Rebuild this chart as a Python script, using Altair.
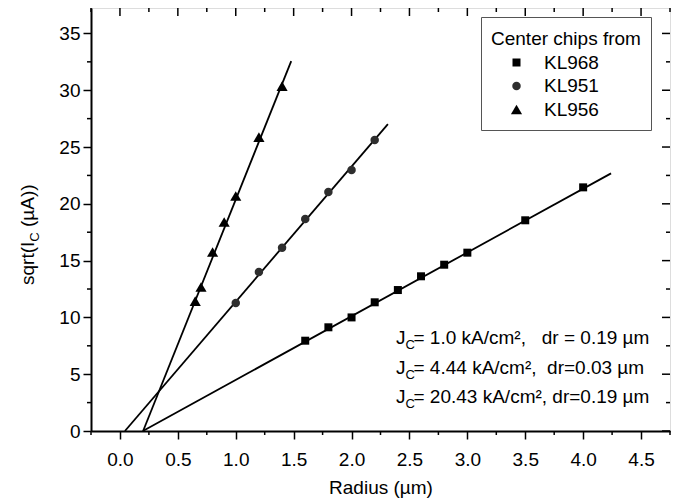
import altair as alt
import pandas as pd

FONT = "Liberation Sans"
FS = 19

# ---------------- data ----------------
chips = ["KL968", "KL951", "KL956"]
shapes = ["square", "circle", "triangle-up"]
colors = ["#000000", "#2e2e2e", "#000000"]
sizes = [64, 72, 125]

kl968_r = [1.6, 1.8, 2.0, 2.2, 2.4, 2.6, 2.8, 3.0, 3.5, 4.0]
kl968_v = [7.95, 9.13, 10.0, 11.33, 12.41, 13.62, 14.64, 15.7, 18.55, 21.45]
kl951_r = [1.0, 1.2, 1.4, 1.6, 1.8, 2.0, 2.2]
kl951_v = [11.27, 14.0, 16.14, 18.66, 21.04, 22.98, 25.62]
kl956_r = [0.65, 0.7, 0.8, 0.9, 1.0, 1.2, 1.4]
kl956_v = [11.44, 12.68, 15.76, 18.4, 20.69, 25.88, 30.37]

# linear fits (start / end of each drawn line)
fit_r0 = [0.198, 0.043, 0.200]
fit_r1 = [4.241, 2.314, 1.479]
fit_v0 = [0.0, 0.0, 0.0]
fit_v1 = [22.68, 27.02, 32.57]

x_major = [0.0, 0.5, 1.0, 1.5, 2.0, 2.5, 3.0, 3.5, 4.0, 4.5]
x_minor = [-0.25, 0.25, 0.75, 1.25, 1.75, 2.25, 2.75, 3.25, 3.75, 4.25, 4.75]
y_major = [0, 5, 10, 15, 20, 25, 30, 35]
y_minor = [2.5, 7.5, 12.5, 17.5, 22.5, 27.5, 32.5]

jc_values = ["1.0", "4.44", "20.43"]
dr_values = ["\u00a0\u00a0\u00a0dr = 0.19 µm", "\u00a0\u00a0dr=0.03 µm", "\u00a0dr=0.19 µm"]

# ---------------- geometry ----------------
W, H = 579, 423
X_DOM = [-0.25, 4.75]
Y_DOM = [0, 37.24]

pts = pd.DataFrame({
    "r": kl968_r + kl951_r + kl956_r,
    "v": kl968_v + kl951_v + kl956_v,
    "chip": [chips[0]] * len(kl968_r) + [chips[1]] * len(kl951_r) + [chips[2]] * len(kl956_r),
})
fits = pd.DataFrame({
    "r": fit_r0 + fit_r1,
    "v": fit_v0 + fit_v1,
    "chip": chips + chips,
})

xscale = alt.Scale(domain=X_DOM, nice=False, zero=False)
yscale = alt.Scale(domain=Y_DOM, nice=False, zero=False)
xaxis = alt.Axis(values=x_major, format=".1f", grid=False, tickSize=8, tickWidth=1.5,
                 tickColor="black", domainColor="black", domainWidth=2,
                 labelFontSize=FS, labelColor="black", labelPadding=11, labelFont=FONT,
                 title="Radius (µm)", titleFontSize=FS, titleFontWeight="normal",
                 titleColor="black", titlePadding=9, titleFont=FONT)
yaxis = alt.Axis(values=y_major, format="d", grid=False, tickSize=8, tickWidth=1.5,
                 tickColor="black", domainColor="black", domainWidth=2,
                 labelFontSize=FS, labelColor="black", labelPadding=3, labelFont=FONT,
                 title=None)

X = alt.X("r:Q", scale=xscale, axis=xaxis)
Y = alt.Y("v:Q", scale=yscale, axis=yaxis)

lines = alt.Chart(fits).mark_line(color="black", strokeWidth=1.8).encode(
    x=X, y=Y, detail="chip:N")

legend = alt.Legend(title=["", "Center chips from"], titleLineHeight=3,
                    orient="none", legendX=390, legendY=9,
                    direction="vertical", strokeColor="#555555", fillColor="white",
                    padding=10, titleFontSize=FS, titleFontWeight="normal",
                    titleColor="black", titleFont=FONT, titlePadding=4,
                    labelFontSize=FS, labelColor="black", labelFont=FONT,
                    symbolStrokeWidth=0, symbolOffset=16,
                    labelOffset=18, rowPadding=3.5)

points = alt.Chart(pts).mark_point(filled=True, opacity=1).encode(
    x=X, y=Y,
    shape=alt.Shape("chip:N", scale=alt.Scale(domain=chips, range=shapes), legend=legend),
    color=alt.Color("chip:N", scale=alt.Scale(domain=chips, range=colors), legend=legend),
    size=alt.Size("chip:N", scale=alt.Scale(type="ordinal", domain=chips, range=sizes),
                  legend=legend),
)

xmaj = pd.DataFrame({"r": x_major})
xmin = pd.DataFrame({"r": x_minor})
ymaj = pd.DataFrame({"v": y_major})
ymin = pd.DataFrame({"v": y_minor})
rule = dict(color="black", strokeWidth=1.5)

bottom_minor = alt.Chart(xmin).mark_rule(**rule).encode(x=X, y=alt.value(H), y2=alt.value(H + 4))
top_major = alt.Chart(xmaj).mark_rule(**rule).encode(x=X, y=alt.value(0), y2=alt.value(8))
top_minor = alt.Chart(xmin).mark_rule(**rule).encode(x=X, y=alt.value(0), y2=alt.value(4))
left_minor = alt.Chart(ymin).mark_rule(**rule).encode(y=Y, x=alt.value(-4), x2=alt.value(0))
right_major = alt.Chart(ymaj).mark_rule(**rule).encode(y=Y, x=alt.value(W - 8), x2=alt.value(W))
right_minor = alt.Chart(ymin).mark_rule(**rule).encode(y=Y, x=alt.value(W - 4), x2=alt.value(W))

# y axis title with subscript
one = pd.DataFrame({"a": [0]})
ytitle = [
    alt.Chart(one).mark_text(text="sqrt(I", angle=270, align="left", baseline="alphabetic",
                             fontSize=FS, font=FONT, color="black").encode(
        x=alt.value(-57), y=alt.value(277)),
    alt.Chart(one).mark_text(text="C", angle=270, align="left", baseline="alphabetic",
                             fontSize=13, font=FONT, color="black").encode(
        x=alt.value(-52.5), y=alt.value(233.7)),
    alt.Chart(one).mark_text(text="(µA))", angle=270, align="left", baseline="alphabetic",
                             fontSize=FS, font=FONT, color="black").encode(
        x=alt.value(-57), y=alt.value(219)),
]

# annotation block
ann = []
base_y = [336, 366, 395]
for i in range(3):
    ann.append(alt.Chart(one).mark_text(text="J", align="left", baseline="alphabetic",
                                        fontSize=FS, font=FONT, color="black").encode(
        x=alt.value(305), y=alt.value(base_y[i])))
    ann.append(alt.Chart(one).mark_text(text="C", align="left", baseline="alphabetic",
                                        fontSize=13, font=FONT, color="black").encode(
        x=alt.value(314.5), y=alt.value(base_y[i] + 5)))
    ann.append(alt.Chart(one).mark_text(
        text="= " + jc_values[i] + " kA/cm²," + dr_values[i], align="left",
        baseline="alphabetic", fontSize=FS, font=FONT, color="black").encode(
        x=alt.value(322.5), y=alt.value(base_y[i])))

chart = alt.layer(
    lines, bottom_minor, top_major, top_minor, left_minor, right_major, right_minor,
    points, *ytitle, *ann
).properties(
    width=W, height=H,
    autosize=alt.AutoSizeParams(type="none"),
    padding={"left": 83, "top": 0, "right": 4, "bottom": 68},
).configure_view(stroke="black", strokeWidth=2).configure(font=FONT)

chart.save("out.html", embed_options={"renderer": "svg", "actions": False})
